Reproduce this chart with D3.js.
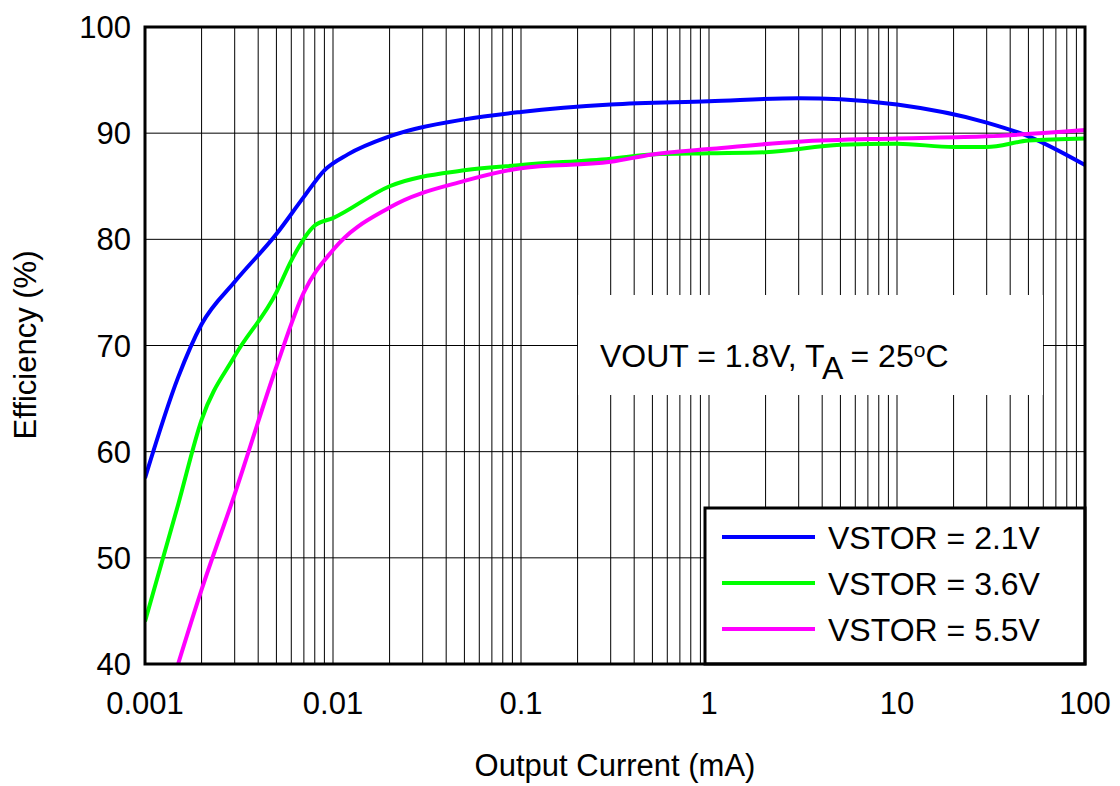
<!DOCTYPE html><html><head><script src="https://cdn.jsdelivr.net/npm/d3@7"></script>
<style>body{margin:0;background:#fff}text{font-family:"Liberation Sans",Arial,sans-serif}</style></head><body>
<svg id="c" width="1120" height="786"></svg>
<script>
const xTicks=[0.001,0.01,0.1,1,10,100];
const xTickLabels=["0.001","0.01","0.1","1","10","100"];
const yTicks=[40,50,60,70,80,90,100];
const seriesNames=["VSTOR = 2.1V","VSTOR = 3.6V","VSTOR = 5.5V"];
const seriesColors=["#0000ff","#00ff00","#ff00ff"];
const blue=[[0.001,57.5],[0.0015,67],[0.002,72],[0.003,76],[0.005,80.5],[0.007,84],[0.009,86.5],[0.012,88],[0.02,89.7],[0.05,91.3],[0.1,92],[0.3,92.7],[1,93],[3,93.3],[5,93.2],[10,92.7],[30,91],[50,89.7],[100,87]];
const green=[[0.001,44],[0.0015,55],[0.002,63],[0.003,69],[0.005,75],[0.006,78],[0.008,81.3],[0.01,82],[0.02,85],[0.05,86.5],[0.1,87],[0.3,87.6],[0.5,88],[1,88.1],[2,88.2],[5,88.9],[10,89],[20,88.7],[30,88.7],[50,89.3],[100,89.5]];
const magenta=[[0.0015,40],[0.002,47],[0.003,56],[0.005,68],[0.007,75],[0.01,79],[0.02,83],[0.05,85.5],[0.1,86.7],[0.3,87.3],[0.5,88],[1,88.5],[3,89.2],[10,89.5],[30,89.7],[100,90.3]];
const data=[blue,green,magenta];
const L=145,R=1085,T=27,B=664;
const svg=d3.select("#c");
const x=d3.scaleLog().domain([0.001,100]).range([L,R]);
const y=d3.scaleLinear().domain([40,100]).range([B,T]);
const g=svg.append("g");
const minor=[];for(let d=0.001;d<100;d*=10)for(let k=1;k<10;k++)minor.push(+(d*k).toPrecision(3));
g.selectAll(".vg").data(minor).join("line").attr("x1",d=>x(d)).attr("x2",d=>x(d)).attr("y1",T).attr("y2",B).attr("stroke","#000").attr("stroke-width",1);
g.selectAll(".hg").data(yTicks).join("line").attr("y1",d=>y(d)).attr("y2",d=>y(d)).attr("x1",L).attr("x2",R).attr("stroke","#000").attr("stroke-width",1);
svg.append("rect").attr("x",578).attr("y",295).attr("width",465).attr("height",100).attr("fill","#fff");
const line=d3.line().x(d=>x(d[0])).y(d=>y(d[1])).curve(d3.curveMonotoneX);
svg.append("defs").append("clipPath").attr("id","cp").append("rect").attr("x",L).attr("y",T).attr("width",R-L).attr("height",B-T);
data.forEach((s,i)=>svg.append("path").attr("d",line(s)).attr("fill","none").attr("stroke",seriesColors[i]).attr("stroke-width",4).attr("clip-path","url(#cp)"));
const t=svg.append("text").attr("x",600).attr("y",367).attr("font-size",32);
t.append("tspan").text("VOUT = 1.8V, T");
t.append("tspan").attr("dy",12).text("A");
t.append("tspan").attr("dy",-12).text(" = 25");
t.append("tspan").attr("font-size",21).attr("dy",-10).text("o");
t.append("tspan").attr("dy",10).text("C");
svg.append("rect").attr("x",705).attr("y",508).attr("width",380).attr("height",156).attr("fill","#fff").attr("stroke","#000").attr("stroke-width",3);
seriesNames.forEach((n,i)=>{const yy=537+i*46;
svg.append("line").attr("x1",722).attr("x2",815).attr("y1",yy).attr("y2",yy).attr("stroke",seriesColors[i]).attr("stroke-width",4);
svg.append("text").attr("x",828).attr("y",yy+12).attr("font-size",32).text(n);});
svg.append("rect").attr("x",L).attr("y",T).attr("width",R-L).attr("height",B-T).attr("fill","none").attr("stroke","#000").attr("stroke-width",3);
svg.selectAll(".xl").data(xTicks).join("text").attr("x",d=>x(d)).attr("y",B+50).attr("text-anchor","middle").attr("font-size",31).text((d,i)=>xTickLabels[i]);
svg.selectAll(".yl").data(yTicks).join("text").attr("x",L-14).attr("y",d=>y(d)+11).attr("text-anchor","end").attr("font-size",31).text(d=>d);
svg.append("text").attr("x",615).attr("y",776).attr("text-anchor","middle").attr("font-size",31).text("Output Current (mA)");
svg.append("text").attr("transform","translate(36,345) rotate(-90)").attr("text-anchor","middle").attr("font-size",31).text("Efficiency (%)");
</script></body></html>
